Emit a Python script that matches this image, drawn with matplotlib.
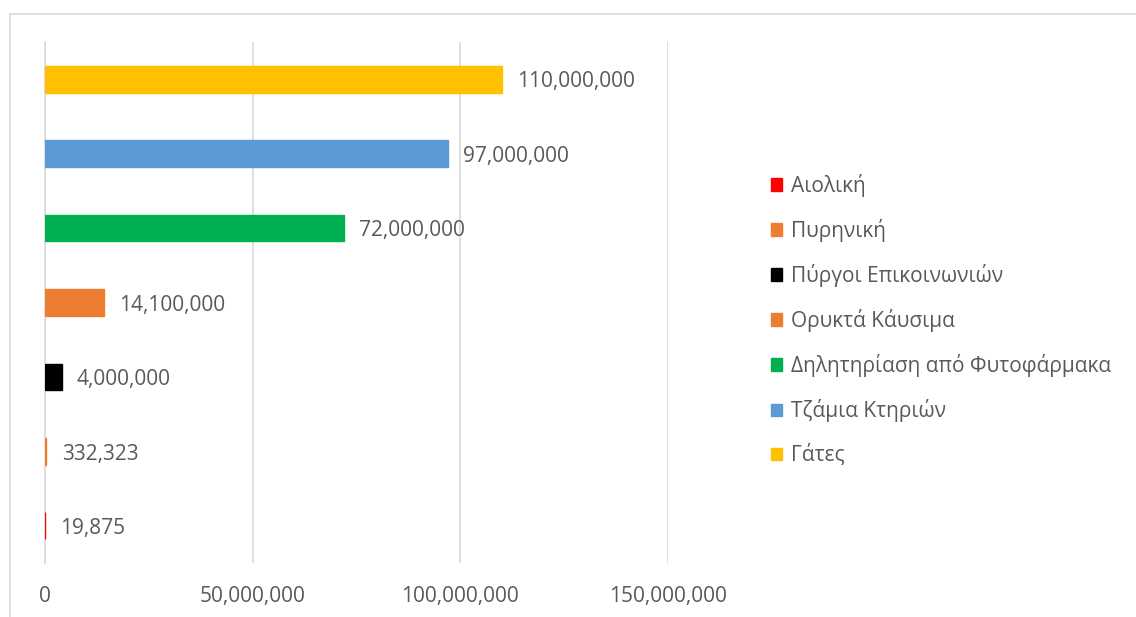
import matplotlib.pyplot as plt
import matplotlib.patches as mpatches
from matplotlib.ticker import FuncFormatter

# deaths of birds per cause, bottom bar first
categories = ['Αιολική', 'Πυρηνική', 'Πύργοι Επικοινωνιών', 'Ορυκτά Κάυσιμα',
              'Δηλητηρίαση από Φυτοφάρμακα', 'Τζάμια Κτηριών', 'Γάτες']
values = [19875, 332323, 4000000, 14100000, 72000000, 97000000, 110000000]
colors = ['#FF0000', '#ED7D31', '#000000', '#ED7D31', '#00B050', '#5B9BD5', '#FFC000']
xticks = [0, 50000000, 100000000, 150000000]

plt.rcParams['font.family'] = ['Open Sans', 'DejaVu Sans']
text_color = '#595959'
grid_color = '#d9d9d9'
fs = 15

fig = plt.figure(figsize=(11.36, 6.17), dpi=100)
ax = fig.add_axes([45 / 1136, 1 - 563 / 617, 623 / 1136, 521 / 617])

# outer chart frame (only top and left edges are visible)
frame = mpatches.Rectangle((9.5 / 1136, -0.5), 2, 1.5 - 13.5 / 617,
                           transform=fig.transFigure, fill=False,
                           edgecolor=grid_color, linewidth=1.2)
fig.patches.append(frame)

ypos = list(range(len(categories)))
# thin edge in the bar colour keeps the tiny values visible
bars = ax.barh(ypos, values, height=0.36, color=colors, edgecolor=colors,
               linewidth=1.0, zorder=3)

for y, v in zip(ypos, values):
    ax.annotate(f'{v:,}', (v, y), xytext=(11, -2), textcoords='offset points',
                va='center', ha='left', fontsize=fs, color=text_color)

ax.set_xlim(0, 150000000)
ax.set_ylim(-0.5, len(categories) - 0.5)
ax.set_xticks(xticks)
ax.xaxis.set_major_formatter(FuncFormatter(lambda v, p: f'{int(v):,}'))
ax.set_yticks([])
ax.tick_params(axis='x', length=0, pad=16.5, labelsize=fs, labelcolor=text_color)
ax.grid(axis='x', color=grid_color, linewidth=1.2, zorder=0)
for side in ['top', 'right', 'bottom']:
    ax.spines[side].set_visible(False)
ax.spines['left'].set_color(grid_color)
ax.spines['left'].set_linewidth(1.2)
ax.spines['left'].set_zorder(2)

handles = [mpatches.Patch(color=c) for c in colors]
fig.legend(handles, categories, loc='upper left', bbox_to_anchor=(752 / 1136, 1 - 155 / 617),
           frameon=False, fontsize=fs, labelcolor=text_color, handlelength=0.55,
           handleheight=0.55, handletextpad=0.4, labelspacing=1.06)

fig.savefig('out.png', dpi=100)
